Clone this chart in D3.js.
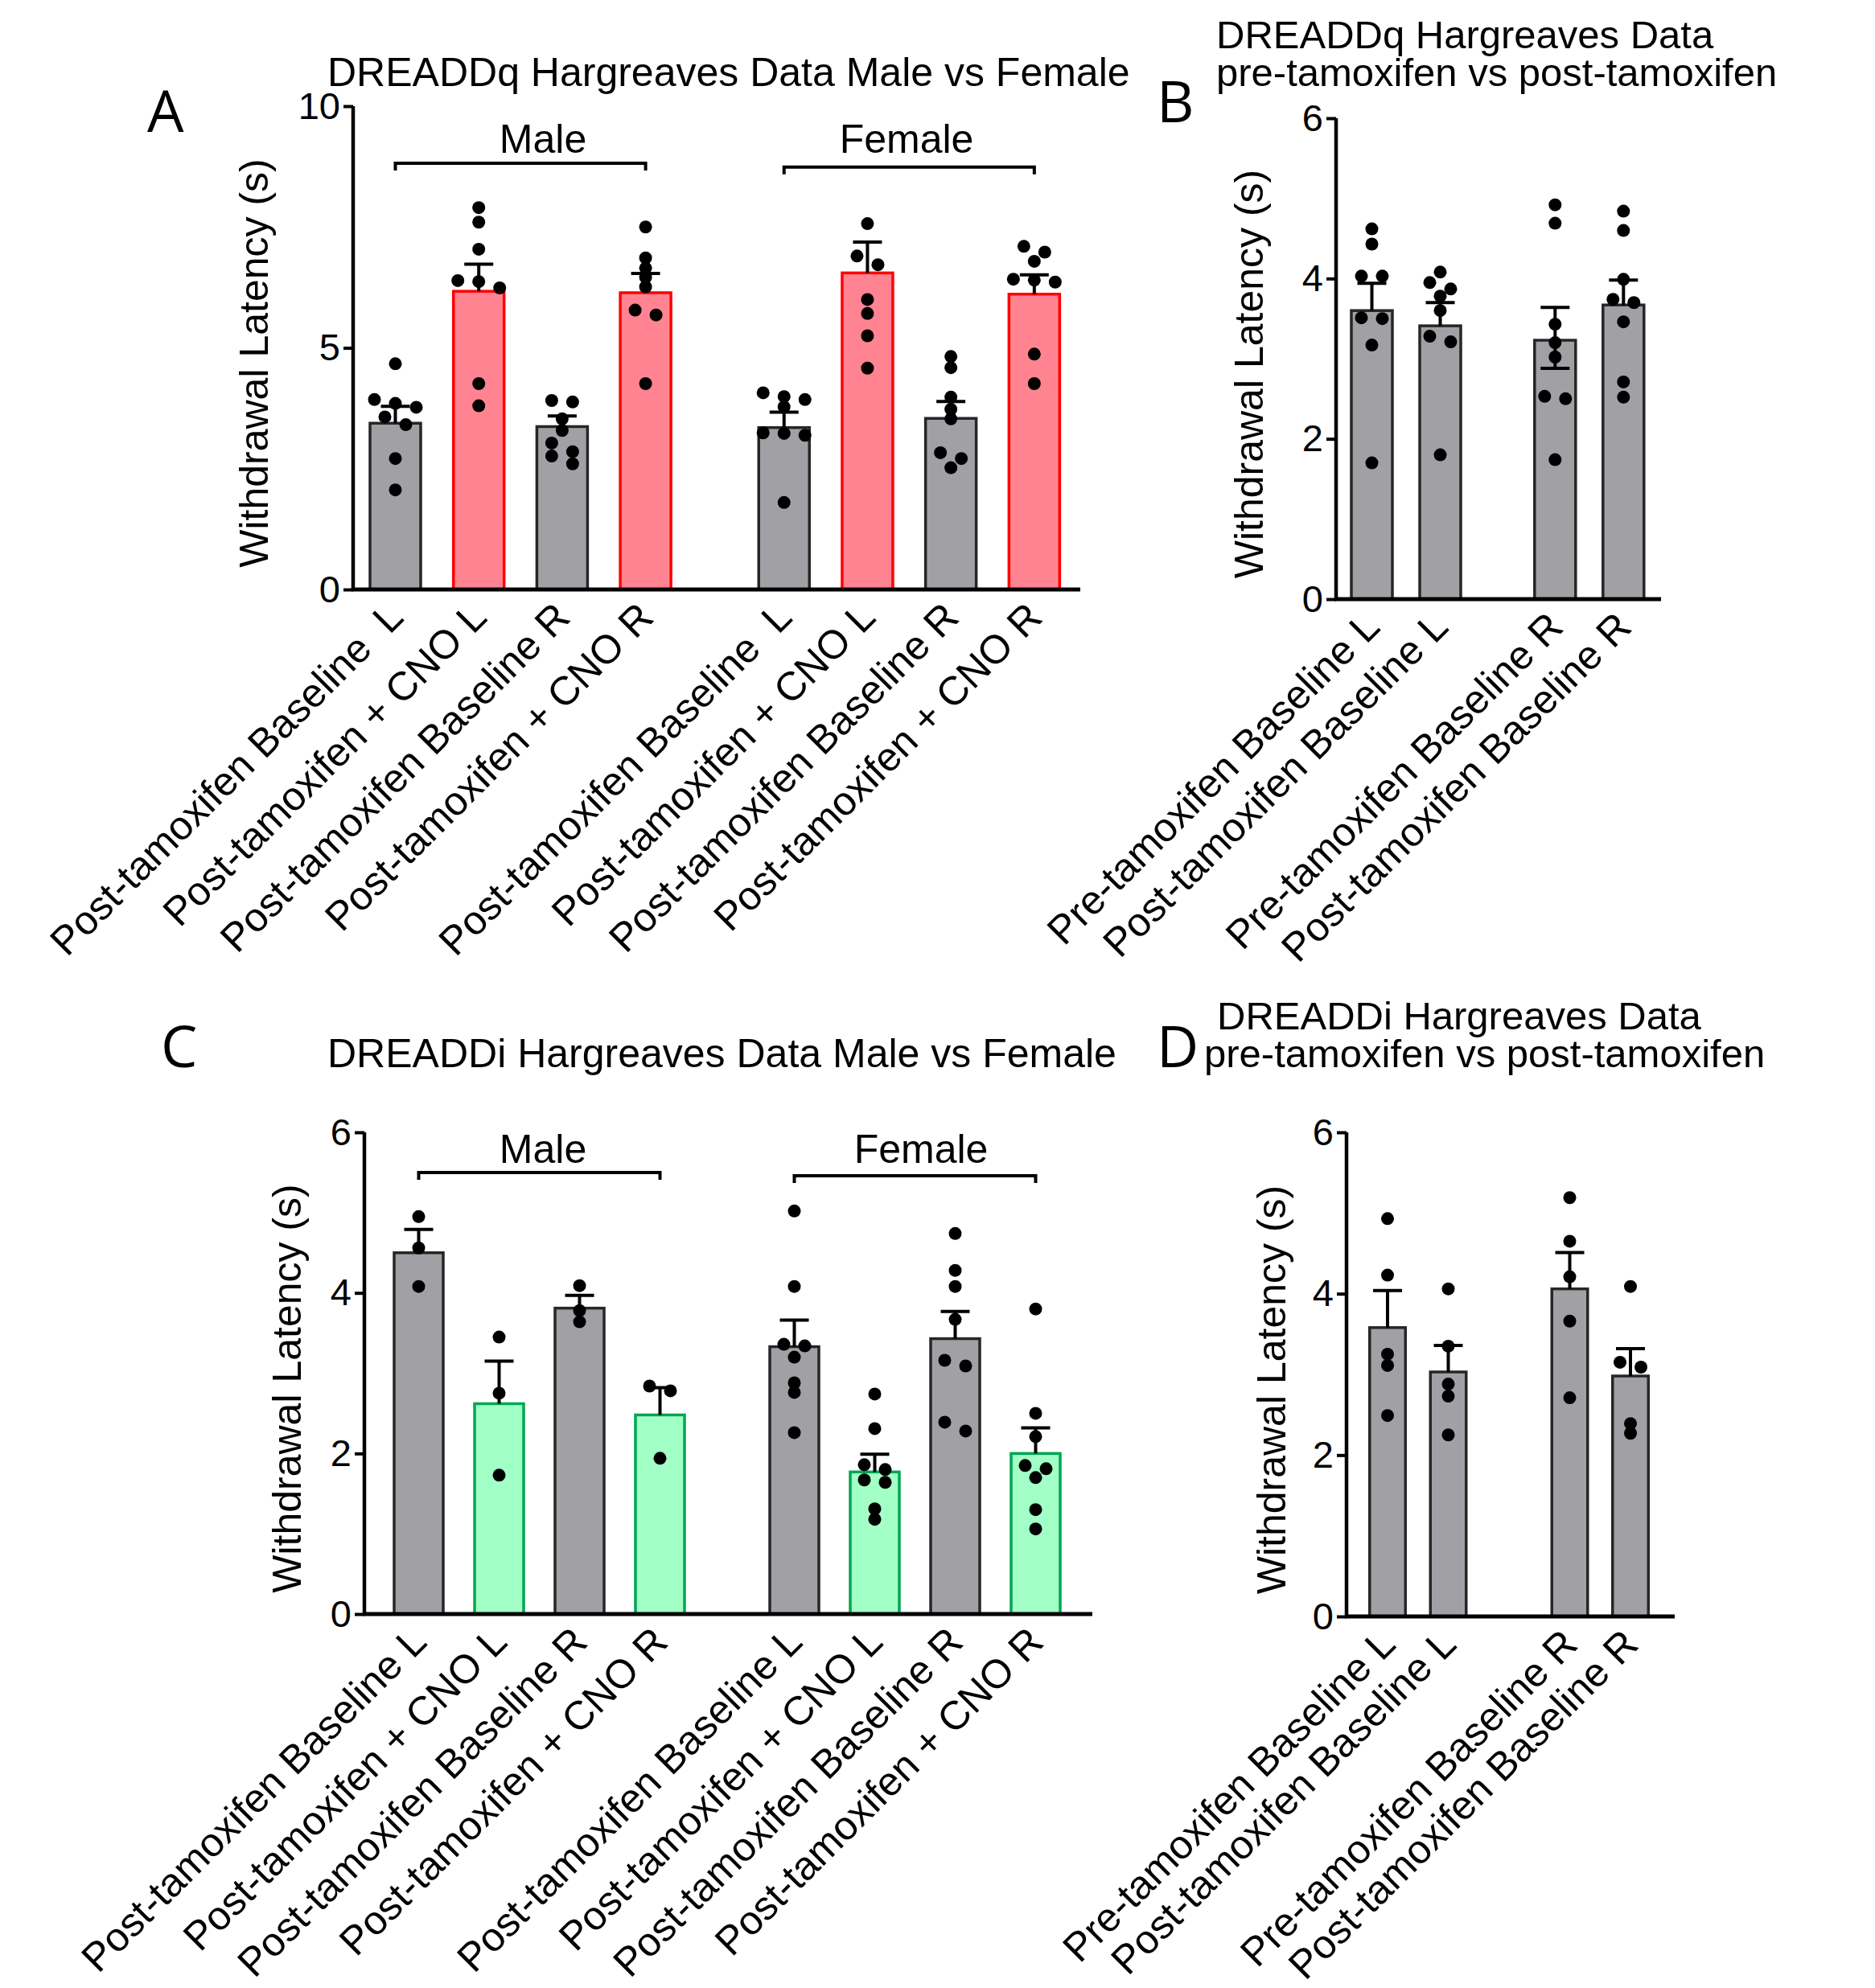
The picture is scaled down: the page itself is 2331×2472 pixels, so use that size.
<!DOCTYPE html>
<html>
<head>
<meta charset="utf-8">
<script src="https://cdn.jsdelivr.net/npm/d3@7"></script>
<style>
  body { margin: 0; background: #fff; }
  text { font-family: "Liberation Sans", Arial, sans-serif; fill: #000; }
  .letter { font-family: "Open Sans", "Noto Sans", sans-serif; }
</style>
</head>
<body>
<svg id="chart" width="2331" height="2472"></svg>
<script>
// ---- data ----
const catsA = ["Post-tamoxifen Baseline  L", "Post-tamoxifen + CNO L", "Post-tamoxifen Baseline R", "Post-tamoxifen + CNO R",
               "Post-tamoxifen Baseline  L", "Post-tamoxifen + CNO L", "Post-tamoxifen Baseline R", "Post-tamoxifen + CNO R"];
const kindsA = ["base", "cno", "base", "cno", "base", "cno", "base", "cno"];
const meansA = [3.44, 6.17, 3.37, 6.14, 3.35, 6.55, 3.54, 6.11];
const semA   = [0.35, 0.56, 0.22, 0.40, 0.32, 0.64, 0.35, 0.40];
const pointsA = [
  [4.67, 3.93, 3.85, 3.77, 3.57, 3.41, 2.71, 2.06],
  [7.90, 7.60, 7.04, 6.39, 6.37, 6.24, 4.26, 3.80],
  [3.91, 3.88, 3.53, 3.29, 3.03, 2.85, 2.76, 2.60],
  [7.50, 6.86, 6.65, 6.46, 6.26, 5.78, 5.68, 4.26],
  [4.07, 3.99, 3.93, 3.78, 3.24, 3.23, 3.19, 1.80],
  [7.57, 6.90, 6.72, 6.00, 5.71, 5.25, 4.58],
  [4.82, 4.59, 3.98, 3.73, 3.53, 2.83, 2.71, 2.52],
  [7.10, 6.98, 6.79, 6.42, 6.40, 6.36, 4.87, 4.26]
];
const ticksA = [0, 5, 10];

const catsB = ["Pre-tamoxifen Baseline L", "Post-tamoxifen Baseline L", "Pre-tamoxifen Baseline R", "Post-tamoxifen Baseline R"];
const kindsB = ["base", "base", "base", "base"];
const meansB = [3.60, 3.41, 3.23, 3.67];
const semB   = [0.34, 0.29, 0.41, 0.31];
const semDownB = [0, 0, 0.35, 0];
const pointsB = [
  [4.62, 4.43, 4.03, 4.03, 3.51, 3.50, 3.17, 1.70],
  [4.08, 3.95, 3.87, 3.78, 3.60, 3.28, 3.21, 1.80],
  [4.92, 4.69, 3.43, 3.20, 3.02, 2.53, 2.50, 1.74],
  [4.84, 4.60, 3.99, 3.74, 3.70, 3.46, 2.71, 2.52]
];

const catsC = ["Post-tamoxifen Baseline L", "Post-tamoxifen + CNO L", "Post-tamoxifen Baseline R", "Post-tamoxifen + CNO R",
               "Post-tamoxifen Baseline L", "Post-tamoxifen + CNO L", "Post-tamoxifen Baseline R", "Post-tamoxifen + CNO R"];
const kindsC = ["base", "cnoi", "base", "cnoi", "base", "cnoi", "base", "cnoi"];
const meansC = [4.50, 2.62, 3.81, 2.48, 3.33, 1.77, 3.43, 2.00];
const semC   = [0.29, 0.53, 0.16, 0.34, 0.33, 0.22, 0.34, 0.32];
const pointsC = [
  [4.95, 4.56, 4.08],
  [3.45, 2.75, 1.73],
  [4.09, 3.78, 3.64],
  [2.84, 2.78, 1.94],
  [5.02, 4.08, 3.36, 3.34, 3.20, 2.88, 2.76, 2.26],
  [2.74, 2.31, 1.86, 1.80, 1.67, 1.64, 1.31, 1.18],
  [4.74, 4.28, 4.08, 3.67, 3.16, 3.09, 2.39, 2.28],
  [3.80, 2.50, 2.21, 1.85, 1.81, 1.70, 1.30, 1.06]
];

const catsD = catsB;
const kindsD = ["base", "base", "base", "base"];
const meansD = [3.58, 3.03, 4.06, 2.98];
const semD   = [0.46, 0.33, 0.45, 0.34];
const pointsD = [
  [4.93, 4.23, 3.25, 3.11, 2.49],
  [4.06, 3.35, 2.88, 2.73, 2.25],
  [5.19, 4.65, 4.21, 3.66, 2.71],
  [4.09, 3.15, 3.09, 2.39, 2.27]
];
const ticks6 = [0, 2, 4, 6];

// ---- styles ----
const fills   = { base: "#a1a1a5", cno: "#ff8391", cnoi: "#a2ffc6" };
const strokes = { base: "#262626", cno: "#ff0000", cnoi: "#00a651" };

const svg = d3.select("#chart");
svg.append("rect").attr("width", 2331).attr("height", 2472).attr("fill", "#fff");

// Prism-like scatter: points with close values share a row, rows centred on the bar
function swarm(vals, y, cx) {
  const sorted = vals.slice().sort((a, b) => b - a);
  const rows = [];
  sorted.forEach(v => {
    const last = rows[rows.length - 1];
    if (last && Math.abs(y(last[0]) - y(v)) < 11) last.push(v);
    else rows.push([v]);
  });
  const out = [];
  rows.forEach(r => r.forEach((v, k) => out.push({ v, x: cx + (k - (r.length - 1) / 2) * 26 })));
  return out;
}

function drawPanel(cfg) {
  const g = svg.append("g");
  const y = d3.scaleLinear().domain([0, d3.max(cfg.ticks)]).range(cfg.yRange);
  const slot = i => i + (i >= cfg.gapAt ? cfg.gap : 0);
  const x = d3.scaleLinear().domain([0, 1]).range([cfg.first, cfg.first + cfg.step]);
  const cx = i => x(slot(i));
  const y0 = y(0);

  // bars
  g.selectAll(".bar")
    .data(cfg.means)
    .join("rect")
    .attr("x", (d, i) => cx(i) - cfg.barW / 2)
    .attr("y", d => y(d))
    .attr("width", cfg.barW)
    .attr("height", d => y0 - y(d))
    .attr("fill", (d, i) => fills[cfg.kinds[i]])
    .attr("stroke", (d, i) => strokes[cfg.kinds[i]])
    .attr("stroke-width", 3.5);

  // error bars (SEM)
  cfg.means.forEach((m, i) => {
    const lo = m - (cfg.semDown ? cfg.semDown[i] : 0);
    const hi = m + cfg.sems[i];
    g.append("line").attr("x1", cx(i)).attr("x2", cx(i))
      .attr("y1", y(lo)).attr("y2", y(hi))
      .attr("stroke", "#000").attr("stroke-width", 4);
    g.append("line").attr("x1", cx(i) - 18).attr("x2", cx(i) + 18)
      .attr("y1", y(hi)).attr("y2", y(hi))
      .attr("stroke", "#000").attr("stroke-width", 4);
    if (cfg.semDown && cfg.semDown[i] > 0) {
      g.append("line").attr("x1", cx(i) - 18).attr("x2", cx(i) + 18)
        .attr("y1", y(lo)).attr("y2", y(lo))
        .attr("stroke", "#000").attr("stroke-width", 4);
    }
  });

  // individual animals
  cfg.points.forEach((vals, i) => {
    g.selectAll(null)
      .data(swarm(vals, y, cx(i)))
      .join("circle")
      .attr("cx", d => d.x)
      .attr("cy", d => y(d.v))
      .attr("r", 8)
      .attr("fill", "#000");
  });

  // y axis
  const yAxis = d3.axisLeft(y).tickValues(cfg.ticks).tickFormat(d3.format("d"))
    .tickSize(12).tickPadding(4).tickSizeOuter(0);
  const ya = g.append("g").attr("transform", `translate(${cfg.axisX},0)`).call(yAxis);
  ya.select(".domain").attr("stroke-width", 4.5).attr("d", `M0,${y0}V${y(d3.max(cfg.ticks))}`);
  ya.selectAll(".tick line").attr("stroke-width", 4);
  ya.selectAll(".tick text")
    .attr("font-family", '"Liberation Sans", Arial, sans-serif')
    .attr("font-size", 47);

  // x axis
  g.append("line")
    .attr("x1", cfg.axisX - 2).attr("x2", cfg.xEnd)
    .attr("y1", y0).attr("y2", y0)
    .attr("stroke", "#000").attr("stroke-width", 5);

  // rotated category labels
  g.selectAll(".xlab")
    .data(cfg.cats)
    .join("text")
    .attr("xml:space", "preserve")
    .style("white-space", "pre")
    .attr("transform", (d, i) => `translate(${cx(i)},${y0 + 25}) rotate(-45)`)
    .attr("text-anchor", "end")
    .attr("dy", "0.35em")
    .attr("font-size", 50)
    .text(d => d);

  // y axis title
  g.append("text")
    .attr("transform", `translate(${cfg.yTitleX},${(cfg.yRange[0] + cfg.yRange[1]) / 2 + 19}) rotate(-90)`)
    .attr("text-anchor", "middle")
    .attr("font-size", 50)
    .text("Withdrawal Latency (s)");

  // title lines
  cfg.title.forEach(t => {
    g.append("text").attr("x", t.x).attr("y", t.y)
      .attr("font-size", cfg.title.length > 1 ? 49 : 50).text(t.text);
  });

  // panel letter
  g.append("text").attr("class", "letter")
    .attr("x", cfg.letter.x).attr("y", cfg.letter.y)
    .attr("font-size", 72).text(cfg.letter.t);

  // group brackets
  (cfg.brackets || []).forEach(b => {
    const by = y(b.level);
    g.append("path")
      .attr("d", `M${cx(b.from)},${by + 9}V${by}H${cx(b.to)}V${by + 9}`)
      .attr("fill", "none").attr("stroke", "#000").attr("stroke-width", 4);
    g.append("text")
      .attr("x", b.labelX).attr("y", b.labelY)
      .attr("text-anchor", "middle").attr("font-size", 50)
      .text(b.label);
  });
}

drawPanel({
  cats: catsA, kinds: kindsA, means: meansA, sems: semA, points: pointsA, ticks: ticksA,
  yRange: [733, 132], axisX: 439, xEnd: 1343, first: 491.5, step: 103.7, gapAt: 4, gap: 0.66, barW: 63,
  yTitleX: 333,
  title: [{ text: "DREADDq Hargreaves Data Male vs Female", x: 407, y: 107 }],
  letter: { t: "A", x: 183, y: 164 },
  brackets: [
    { from: 0, to: 3, level: 8.82, label: "Male", labelX: 675, labelY: 190 },
    { from: 4, to: 7, level: 8.74, label: "Female", labelX: 1127, labelY: 190 }
  ]
});

drawPanel({
  cats: catsB, kinds: kindsB, means: meansB, sems: semB, semDown: semDownB, points: pointsB, ticks: ticks6,
  yRange: [745, 147], axisX: 1661, xEnd: 2065, first: 1705.5, step: 85, gapAt: 2, gap: 0.68, barW: 51,
  yTitleX: 1570,
  title: [{ text: "DREADDq Hargreaves Data", x: 1512, y: 60 },
          { text: "pre-tamoxifen vs post-tamoxifen", x: 1512, y: 107 }],
  letter: { t: "B", x: 1438, y: 152 }
});

drawPanel({
  cats: catsC, kinds: kindsC, means: meansC, sems: semC, points: pointsC, ticks: ticks6,
  yRange: [2007, 1408], axisX: 453, xEnd: 1358, first: 520.5, step: 100, gapAt: 4, gap: 0.67, barW: 61,
  yTitleX: 374,
  title: [{ text: "DREADDi Hargreaves Data Male vs Female", x: 407, y: 1327 }],
  letter: { t: "C", x: 200, y: 1327 },
  brackets: [
    { from: 0, to: 3, level: 5.50, label: "Male", labelX: 675, labelY: 1446 },
    { from: 4, to: 7, level: 5.46, label: "Female", labelX: 1145, labelY: 1446 }
  ]
});

drawPanel({
  cats: catsD, kinds: kindsD, means: meansD, sems: semD, points: pointsD, ticks: ticks6,
  yRange: [2010, 1408], axisX: 1674, xEnd: 2082, first: 1725, step: 75.5, gapAt: 2, gap: 1.0, barW: 44.5,
  yTitleX: 1598,
  title: [{ text: "DREADDi Hargreaves Data", x: 1513, y: 1280 },
          { text: "pre-tamoxifen vs post-tamoxifen", x: 1497, y: 1327 }],
  letter: { t: "D", x: 1438, y: 1327 }
});
</script>
</body>
</html>
